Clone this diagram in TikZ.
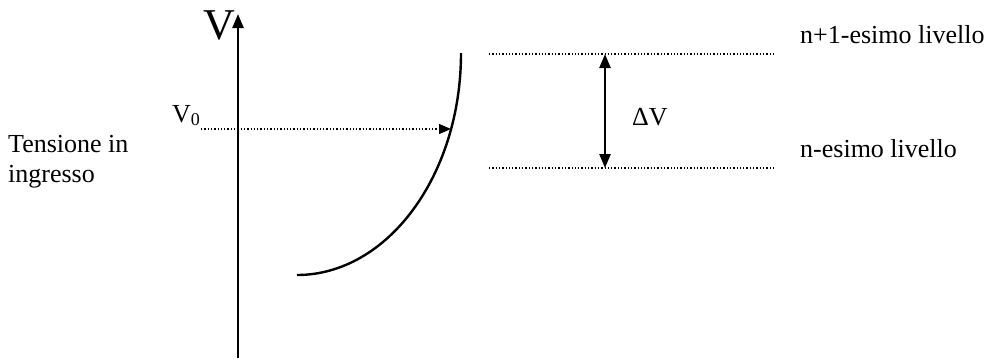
\documentclass[tikz,border=0pt]{standalone}
\usepackage{fontspec}
\setmainfont{Liberation Serif}
\usetikzlibrary{arrows.meta, positioning}

\begin{document}
\begin{tikzpicture}[
        x=1pt, y=-1pt,
        >={Triangle[length=14pt, width=11pt]},
        thickline/.style={line width=2.4pt},
        level/.style={line width=1.3pt, dash pattern=on 1.3pt off 2pt},
        label/.style={font=\fontsize{26}{30}\selectfont, inner sep=0pt}
    ]
        \useasboundingbox (0,0) rectangle (990,360);

        % Vertical axis
        \coordinate (AxisBottom) at (238,358);
        \coordinate (AxisTop) at (238,14);
        \draw[->, thickline] (AxisBottom) -- (AxisTop);
        \node[label, font=\fontsize{44}{44}\selectfont, anchor=base] (Vaxis) at (219,39) {V};

        % Input voltage
        \node[label, anchor=base west] (Vzero) at (172,122) {V\raisebox{-3pt}{\fontsize{18}{18}\selectfont 0}};
        \node[label, anchor=base west] (Tension) at (8,152) {Tensione in};
        \node[label, anchor=base west] (Ingresso) at (8,182) {ingresso};

        % Characteristic curve
        \coordinate (CurveLow) at (297,275);
        \coordinate (CurveTop) at (461,53);
        \draw[thickline] (CurveLow) .. controls (387,275) and (461,176) .. (CurveTop);

        % Dotted input line
        \coordinate (InStart) at (201,129);
        \coordinate (InHit) at (451,129);
        \draw[level, -{Triangle[length=12pt, width=10pt]}] (InStart) -- (InHit);

        % Levels
        \coordinate (UpLeft) at (489,54);
        \coordinate (UpRight) at (775,54);
        \coordinate (LowLeft) at (489,168);
        \coordinate (LowRight) at (775,168);
        \draw[level] (UpLeft) -- (UpRight);
        \draw[level] (LowLeft) -- (LowRight);

        % Step between levels
        \coordinate (UpMid) at (605,54);
        \coordinate (LowMid) at (605,168);
        \draw[<->, thickline] (UpMid) -- (LowMid);
        \node[label, anchor=base west] (DeltaV) at (632,125) {ΔV};

        % Level names
        \node[label, anchor=base west] (UpName) at (800,43) {n+1-esimo livello};
        \node[label, anchor=base west] (LowName) at (800,157) {n-esimo livello};

    \end{tikzpicture}
\end{document}
